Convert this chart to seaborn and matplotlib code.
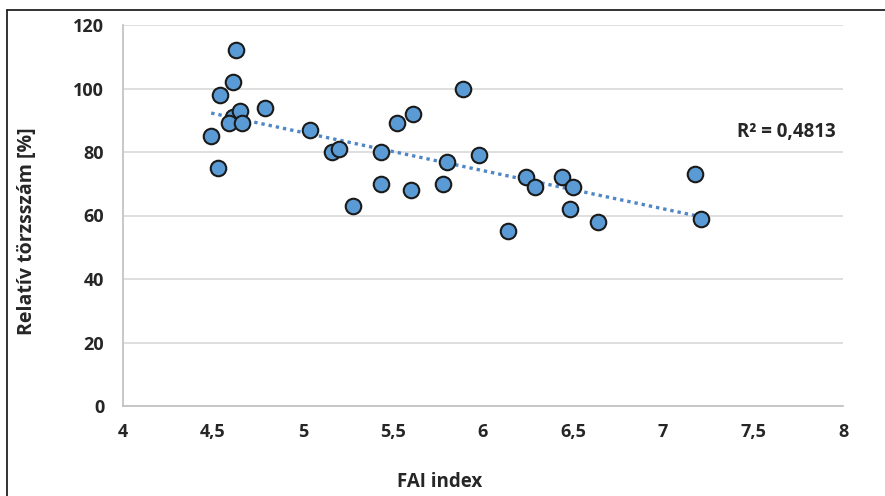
import matplotlib
matplotlib.use('Agg')
import matplotlib.pyplot as plt
import seaborn as sns
import numpy as np
import pandas as pd
from matplotlib.lines import Line2D

# data
fai_index = [4.49, 4.53, 4.54, 4.61, 4.63, 4.61, 4.65, 4.59, 4.66, 4.79,
             5.04, 5.16, 5.20, 5.28, 5.435, 5.435, 5.52, 5.61, 5.60, 5.80,
             5.78, 5.89, 5.98, 6.14, 6.24, 6.29, 6.44, 6.50, 6.485, 6.64,
             7.18, 7.21]
rel_torzsszam = [85, 75, 98, 102, 112, 91, 93, 89, 89, 94,
                 87, 80, 81, 63, 80, 70, 89, 92, 68, 77,
                 70, 100, 79, 55, 72, 69, 72, 69, 62, 58,
                 73, 59]
x_ticks = [4, 4.5, 5, 5.5, 6, 6.5, 7, 7.5, 8]
y_ticks = [0, 20, 40, 60, 80, 100, 120]
r2_label = 'R² = 0,4813'

df = pd.DataFrame({'FAI': fai_index, 'rel': rel_torzsszam})

sns.set_style('white')
plt.rcParams['font.family'] = ['Open Sans', 'DejaVu Sans']

fig = plt.figure(figsize=(8.85, 4.96), dpi=100)
ax = fig.add_axes([123 / 885, 1 - 406 / 496, 720 / 885, 381 / 496])

# outer frame (only top and left edges show in the original crop)
fig.lines.append(Line2D([7 / 885, 1], [1 - 10 / 496, 1 - 10 / 496], transform=fig.transFigure,
                        color='#222222', linewidth=1.3))
fig.lines.append(Line2D([7 / 885, 7 / 885], [0, 1 - 10 / 496], transform=fig.transFigure,
                        color='#222222', linewidth=1.3))

sns.regplot(data=df, x='FAI', y='rel', ax=ax, scatter=False, ci=None,
            line_kws={'color': '#4F86C6', 'linestyle': (0, (1, 1.2)), 'linewidth': 2.4})
sns.scatterplot(data=df, x='FAI', y='rel', ax=ax, s=125, color='#5B9BD5',
                edgecolor='#1a1a1a', linewidth=1.5, zorder=3)

ax.set_xlim(4, 8)
ax.set_ylim(0, 120)
ax.set_xticks(x_ticks)
ax.set_yticks(y_ticks)
ax.set_xticklabels([f'{t:g}'.replace('.', ',') for t in x_ticks])
ax.set_yticklabels([str(t) for t in y_ticks])
ax.yaxis.grid(True, color='#d9d9d9', linewidth=1.2)
ax.xaxis.grid(False)
ax.set_axisbelow(True)

for side in ['top', 'right']:
    ax.spines[side].set_visible(False)
for side in ['left', 'bottom']:
    ax.spines[side].set_color('#bfbfbf')
    ax.spines[side].set_linewidth(1.2)

ax.tick_params(axis='x', direction='out', length=4.5, width=1, color='#bfbfbf',
               labelsize=13, pad=8, labelcolor='#262626')
ax.tick_params(axis='y', direction='out', length=4.5, width=1, color='#bfbfbf',
               labelsize=13, pad=9, labelcolor='#262626')
for lbl in ax.get_xticklabels() + ax.get_yticklabels():
    lbl.set_fontweight('bold')

ax.set_xlabel('FAI index', fontsize=13.5, fontweight='bold', color='#262626')
ax.set_ylabel('Relatív törzsszám [%]', fontsize=14, fontweight='bold', color='#262626')
ax.xaxis.set_label_coords(0.44, -0.172)
ax.yaxis.set_label_coords(-0.12, 0.459)

ax.text(0.990, 0.719, r2_label, transform=ax.transAxes, ha='right', va='center',
        fontsize=13.5, fontweight='bold', color='#262626')

fig.savefig('out.png', dpi=100)
